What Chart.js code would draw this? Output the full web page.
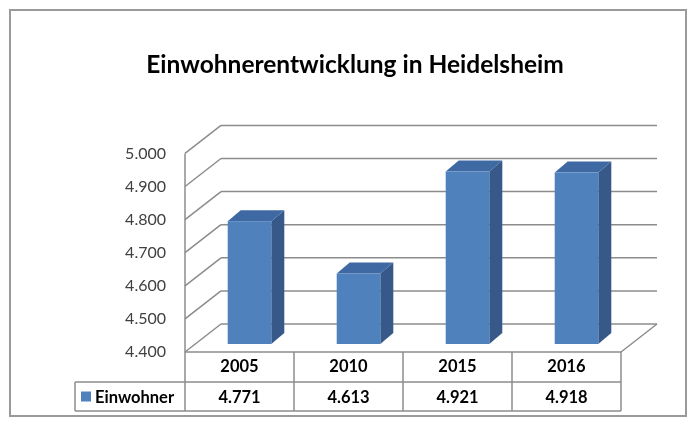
<!DOCTYPE html>
<html lang="de">
<head>
  <meta charset="UTF-8" />
  <title>Einwohnerentwicklung in Heidelsheim</title>
  <script src="https://cdn.jsdelivr.net/npm/chart.js"></script>
  <style>
    html, body { margin: 0; padding: 0; background: #fff; }
    #wrap { width: 696px; height: 425px; }
  </style>
</head>
<body>
  <div id="wrap"><canvas id="chart" width="696" height="425"></canvas></div>

  <script>
    const years = ['2005', '2010', '2015', '2016'];
    const einwohner = [4771, 4613, 4921, 4918];
    const yMin = 4400;
    const yMax = 5000;
    const yStep = 100;
    const seriesName = 'Einwohner';
    const chartTitle = 'Einwohnerentwicklung in Heidelsheim';

    const FONT = 'Lato, "Open Sans", sans-serif';
    const GRID = '#8c8c8c';
    // 3D look: wall depth and bar position inside it
    const depth = { dx: 36, dy: -28 };
    const barFront = { dx: 10, dy: -8 };
    const barDepth = { dx: 13, dy: -11 };

    function fmt(v) {
      return String(v).replace(/\B(?=(\d{3})+(?!\d))/g, '.');
    }

    function line(ctx, x1, y1, x2, y2) {
      ctx.beginPath();
      ctx.moveTo(x1, y1);
      ctx.lineTo(x2, y2);
      ctx.stroke();
    }

    const walls = {
      id: 'walls',
      beforeDraw(chart) {
        const ctx = chart.ctx;
        ctx.save();
        ctx.fillStyle = '#fff';
        ctx.fillRect(0, 0, chart.width, chart.height);
        ctx.restore();
      },
      beforeDatasetsDraw(chart) {
        const ctx = chart.ctx;
        const x = chart.scales.x, y = chart.scales.y;
        const L = x.left, R = x.right;
        ctx.save();
        ctx.strokeStyle = GRID;
        ctx.lineWidth = 1.5;
        for (let v = yMin; v <= yMax; v += yStep) {
          const py = y.getPixelForValue(v);
          line(ctx, L, py, L + depth.dx, py + depth.dy);
          line(ctx, L + depth.dx, py + depth.dy, R + depth.dx, py + depth.dy);
        }
        // left wall front edge
        line(ctx, L, y.getPixelForValue(yMax), L, y.getPixelForValue(yMin));
        // floor
        const fy = y.getPixelForValue(yMin);
        line(ctx, L, fy, R, fy);
        line(ctx, R, fy, R + depth.dx, fy + depth.dy);
        ctx.restore();
      },
      afterDatasetsDraw(chart) {
        const ctx = chart.ctx;
        const meta = chart.getDatasetMeta(0);
        ctx.save();
        meta.data.forEach(bar => {
          const p = bar.getProps(['x', 'y', 'base', 'width'], true);
          const x0 = p.x - p.width / 2 + barFront.dx;
          const x1 = p.x + p.width / 2 + barFront.dx;
          const top = p.y + barFront.dy;
          const bot = p.base + barFront.dy;
          // side
          ctx.fillStyle = '#36598a';
          ctx.beginPath();
          ctx.moveTo(x1, top);
          ctx.lineTo(x1 + barDepth.dx, top + barDepth.dy);
          ctx.lineTo(x1 + barDepth.dx, bot + barDepth.dy);
          ctx.lineTo(x1, bot);
          ctx.closePath();
          ctx.fill();
          // top
          ctx.fillStyle = '#3f69a3';
          ctx.beginPath();
          ctx.moveTo(x0, top);
          ctx.lineTo(x0 + barDepth.dx, top + barDepth.dy);
          ctx.lineTo(x1 + barDepth.dx, top + barDepth.dy);
          ctx.lineTo(x1, top);
          ctx.closePath();
          ctx.fill();
          // front
          ctx.fillStyle = '#4f81bd';
          ctx.fillRect(x0, top, x1 - x0, bot - top);
        });
        ctx.restore();
      },
      afterDraw(chart) {
        const ctx = chart.ctx;
        const x = chart.scales.x, y = chart.scales.y;
        const fy = y.getPixelForValue(yMin);
        const rowTop = 382, rowBot = 411, tableLeft = 75;
        const bounds = [x.left];
        for (let i = 0; i < years.length - 1; i++) {
          bounds.push((x.getPixelForValue(i) + x.getPixelForValue(i + 1)) / 2);
        }
        bounds.push(x.right);

        ctx.save();
        ctx.strokeStyle = GRID;
        ctx.lineWidth = 1.5;
        bounds.forEach(b => line(ctx, b, fy, b, rowBot));
        line(ctx, tableLeft, rowTop, x.right, rowTop);
        line(ctx, tableLeft, rowBot, x.right, rowBot);
        line(ctx, tableLeft, rowTop, tableLeft, rowBot);

        // legend key + series name
        const cy = (rowTop + rowBot) / 2;
        ctx.fillStyle = '#4f81bd';
        ctx.fillRect(81, cy - 5, 10, 10);
        ctx.fillStyle = '#000';
        ctx.font = 'bold 16.5px ' + FONT;
        ctx.textBaseline = 'middle';
        ctx.textAlign = 'left';
        ctx.fillText(seriesName, 95, cy + 1);

        ctx.textAlign = 'center';
        einwohner.forEach((v, i) => {
          ctx.fillText(fmt(v), x.getPixelForValue(i), cy + 1);
        });

        // outer frame
        ctx.strokeStyle = '#9a9a9a';
        ctx.lineWidth = 2;
        ctx.strokeRect(10, 10, 676, 406);
        ctx.restore();
      }
    };

    new Chart(document.getElementById('chart'), {
      type: 'bar',
      data: {
        labels: years,
        datasets: [{
          label: seriesName,
          data: einwohner,
          base: yMin,
          backgroundColor: 'rgba(0,0,0,0)',
          borderWidth: 0,
          categoryPercentage: 1,
          barPercentage: 0.4
        }]
      },
      options: {
        responsive: false,
        animation: false,
        layout: { padding: { left: 89, right: 75, top: 0, bottom: 0 } },
        plugins: {
          legend: { display: false },
          tooltip: { enabled: false },
          title: {
            display: true,
            text: chartTitle,
            color: '#000',
            font: { family: FONT, size: 24.5, weight: 'bold' },
            padding: { top: 50, bottom: 74 }
          }
        },
        scales: {
          x: {
            grid: { display: false, drawTicks: false },
            border: { display: false },
            ticks: {
              color: '#000',
              font: { family: FONT, size: 16.5, weight: 'bold' },
              padding: 5,
              maxRotation: 0
            },
            afterFit(scale) { scale.height = 73; }
          },
          y: {
            min: yMin,
            max: yMax,
            grid: { display: false, drawTicks: false },
            border: { display: false },
            ticks: {
              stepSize: yStep,
              color: '#404040',
              font: { family: FONT, size: 16 },
              padding: 19,
              callback: v => fmt(v)
            },
            afterFit(scale) { scale.width = 96; }
          }
        }
      },
      plugins: [walls]
    });
  </script>
</body>
</html>
